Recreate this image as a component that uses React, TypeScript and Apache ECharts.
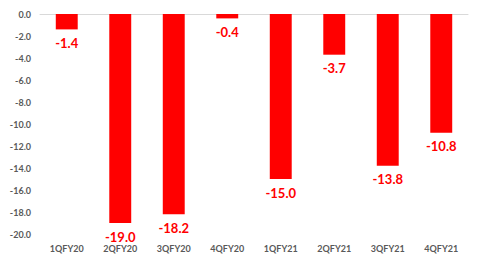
import React, { useEffect, useRef } from "react";
import * as echarts from "echarts";

const categories = ["1QFY20", "2QFY20", "3QFY20", "4QFY20", "1QFY21", "2QFY21", "3QFY21", "4QFY21"];
const values = [-1.4, -19.0, -18.2, -0.4, -15.0, -3.7, -13.8, -10.8];

export default function App() {
  const ref = useRef<HTMLDivElement>(null);
  useEffect(() => {
    const chart = echarts.init(ref.current!, null, { renderer: "svg" });
    chart.setOption({
      animation: false,
      grid: { left: 40, right: 12, top: 14, bottom: 29 },
      xAxis: [
        {
          type: "category",
          data: categories,
          position: "bottom",
          axisLine: { show: false, onZero: false },
          axisTick: { show: false },
          axisLabel: {
            color: "#595959",
            fontFamily: "Lato",
            fontWeight: "bold",
            fontSize: 9,
            margin: 10,
          },
        },
        {
          type: "category",
          data: categories,
          position: "top",
          axisLine: { show: true, lineStyle: { color: "#d9d9d9", width: 1 } },
          axisTick: { show: false },
          axisLabel: { show: false },
        },
      ],
      yAxis: {
        type: "value",
        min: -20,
        max: 0,
        interval: 2,
        axisLine: { show: false },
        axisTick: { show: false },
        splitLine: { show: false },
        axisLabel: {
          color: "#595959",
          fontFamily: "Lato",
          fontWeight: "bold",
          fontSize: 9,
          margin: 9,
          formatter: (v: number) => v.toFixed(1),
        },
      },
      series: [
        {
          type: "bar",
          data: values,
          barWidth: "41%",
          itemStyle: { color: "#ff0000" },
          label: {
            show: true,
            position: "bottom",
            distance: 7,
            color: "#ff0000",
            fontFamily: "Lato",
            fontWeight: "bold",
            fontSize: 13,
            formatter: (p: any) => Number(p.value).toFixed(1),
          },
        },
      ],
    });
    return () => chart.dispose();
  }, []);
  return <div ref={ref} style={{ width: 480, height: 263, position: "absolute", left: 0, top: 0 }} />;
}
